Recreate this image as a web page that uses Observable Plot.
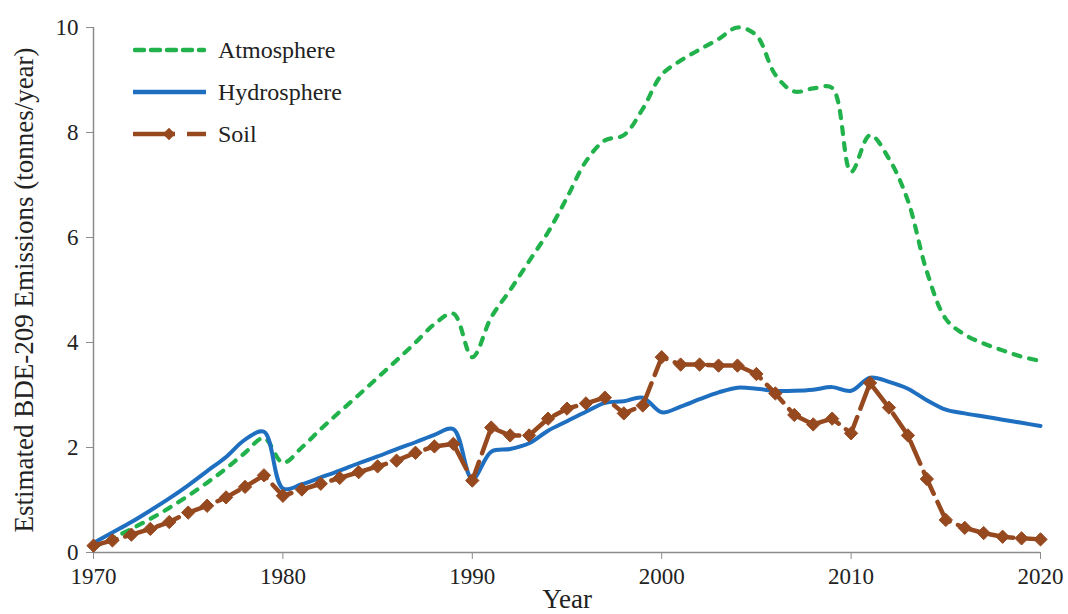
<!DOCTYPE html>
<html>
<head>
<meta charset="utf-8">
<script src="https://cdn.jsdelivr.net/npm/d3@7"></script>
<script src="https://cdn.jsdelivr.net/npm/@observablehq/plot@0.6"></script>
<style>
  html, body { margin: 0; padding: 0; background: #fff; }
  #wrap { position: relative; width: 1068px; height: 614px; }
  #legend { position: absolute; left: 133px; top: 29px; font-family: "Liberation Serif", "Times New Roman", serif; font-size: 24px; color: #222; }
  #legend .row { display: flex; align-items: center; height: 42px; }
  #legend .row svg { margin-right: 12px; }
</style>
</head>
<body>
<div id="wrap">
  <div id="chart"></div>
  <div id="legend"></div>
</div>
<script>
const years = d3.range(1970, 2021);
const seriesNames = ["Atmosphere", "Hydrosphere", "Soil"];
const seriesColors = ["#22b24c", "#1f6fc1", "#96491f"];

const atmosphere = [
  0.10, 0.27, 0.45, 0.64, 0.85, 1.08, 1.33, 1.60, 1.90, 2.18,
  1.71, 2.00, 2.35, 2.68, 3.00, 3.33, 3.66, 4.00, 4.35, 4.55,
  3.72, 4.48, 5.00, 5.55, 6.10, 6.76, 7.45, 7.85, 7.95, 8.45,
  9.10, 9.37, 9.58, 9.78, 10.00, 9.85, 9.10, 8.78, 8.84, 8.85,
  7.25, 7.95, 7.50, 6.70, 5.35, 4.45, 4.15, 3.98, 3.85, 3.73,
  3.65
];
const hydrosphere = [
  0.18, 0.38, 0.58, 0.80, 1.03, 1.28, 1.55, 1.82, 2.15, 2.30,
  1.22, 1.30, 1.43, 1.56, 1.70, 1.83, 1.97, 2.10, 2.24, 2.35,
  1.40, 1.92, 1.97, 2.08, 2.32, 2.50, 2.68, 2.85, 2.88, 2.95,
  2.67, 2.78, 2.92, 3.05, 3.14, 3.12, 3.08, 3.08, 3.10, 3.15,
  3.08, 3.33, 3.25, 3.12, 2.90, 2.72, 2.65, 2.59, 2.53, 2.47,
  2.41
];
const soil = [
  0.13, 0.23, 0.34, 0.45, 0.58, 0.76, 0.89, 1.05, 1.25, 1.47,
  1.08, 1.20, 1.31, 1.42, 1.53, 1.64, 1.75, 1.90, 2.02, 2.07,
  1.37, 2.38, 2.23, 2.23, 2.55, 2.74, 2.84, 2.95, 2.65, 2.80,
  3.72, 3.58, 3.58, 3.56, 3.56, 3.40, 3.03, 2.62, 2.44, 2.55,
  2.27, 3.23, 2.76, 2.23, 1.40, 0.62, 0.47, 0.37, 0.30, 0.27,
  0.25
];
const xTicks = [1970, 1980, 1990, 2000, 2010, 2020];
const yTicks = [0, 2, 4, 6, 8, 10];
const xDomain = [1970, 2020];
const yDomain = [0, 10];

const rows = (vals) => years.map((year, i) => ({year, value: vals[i]}));
const atmoData = rows(atmosphere);
const hydroData = rows(hydrosphere);
const soilData = rows(soil);

const axisColor = "#8c8c8c";
const textColor = "#222";
const font = "'Liberation Serif', 'Times New Roman', serif";

const chart = Plot.plot({
  width: 1068,
  height: 614,
  marginLeft: 93,
  marginRight: 28,
  marginTop: 27,
  marginBottom: 62,
  style: { fontFamily: font, fontSize: "23px", color: textColor, background: "#fff" },
  x: { domain: xDomain },
  y: { domain: yDomain },
  marks: [
    Plot.axisX({ ticks: xTicks, tickFormat: "d", tickSize: 7, tickPadding: 8, stroke: axisColor, fill: textColor,
      label: "Year", labelAnchor: "center", labelOffset: 55, labelArrow: "none", fontSize: 23 }),
    Plot.axisY({ ticks: yTicks, tickSize: 7, tickPadding: 8, stroke: axisColor, fill: textColor,
      label: "Estimated BDE-209 Emissions (tonnes/year)", labelAnchor: "center", labelOffset: 80, labelArrow: "none", fontSize: 23 }),
    Plot.ruleY([yDomain[0]], { stroke: axisColor, strokeWidth: 1.5 }),
    Plot.ruleX([xDomain[0]], { stroke: axisColor, strokeWidth: 1.5 }),
    Plot.line(atmoData, { x: "year", y: "value", stroke: seriesColors[0], strokeWidth: 4.2, curve: "catmull-rom",
      strokeDasharray: "7,9", strokeLinecap: "round" }),
    Plot.line(hydroData, { x: "year", y: "value", stroke: seriesColors[1], strokeWidth: 4, curve: "catmull-rom" }),
    Plot.line(soilData, { x: "year", y: "value", stroke: seriesColors[2], strokeWidth: 4.5,
      strokeDasharray: "24,9" }),
    Plot.dot(soilData, { x: "year", y: "value", symbol: "diamond2", r: 6, fill: seriesColors[2], stroke: seriesColors[2], strokeWidth: 1 })
  ]
});
document.getElementById("chart").appendChild(chart);

chart.querySelectorAll("g[aria-label='x-axis label'] text, g[aria-label='y-axis label'] text").forEach(t => {
  t.setAttribute("font-size", "27");
});

// Legend
const legend = document.getElementById("legend");
const ns = "http://www.w3.org/2000/svg";
seriesNames.forEach((name, i) => {
  const row = document.createElement("div");
  row.className = "row";
  const svg = document.createElementNS(ns, "svg");
  svg.setAttribute("width", 73);
  svg.setAttribute("height", 16);
  const line = document.createElementNS(ns, "line");
  line.setAttribute("x1", i === 0 ? 2 : 0);
  line.setAttribute("x2", i === 0 ? 71 : 73);
  line.setAttribute("y1", 8);
  line.setAttribute("y2", 8);
  line.setAttribute("stroke", seriesColors[i]);
  line.setAttribute("stroke-width", 4.5);
  if (i === 0) { line.setAttribute("stroke-dasharray", "9,7"); line.setAttribute("stroke-linecap", "round"); }
  if (i === 2) { line.setAttribute("stroke-dasharray", "42,12"); }
  svg.appendChild(line);
  if (i === 2) {
    const d = document.createElementNS(ns, "path");
    d.setAttribute("d", d3.symbol(d3.symbolDiamond2, 100)());
    d.setAttribute("transform", "translate(36,8)");
    d.setAttribute("fill", seriesColors[2]);
    svg.appendChild(d);
  }
  row.appendChild(svg);
  const label = document.createElement("span");
  label.textContent = name;
  row.appendChild(label);
  legend.appendChild(row);
});
</script>
</body>
</html>
